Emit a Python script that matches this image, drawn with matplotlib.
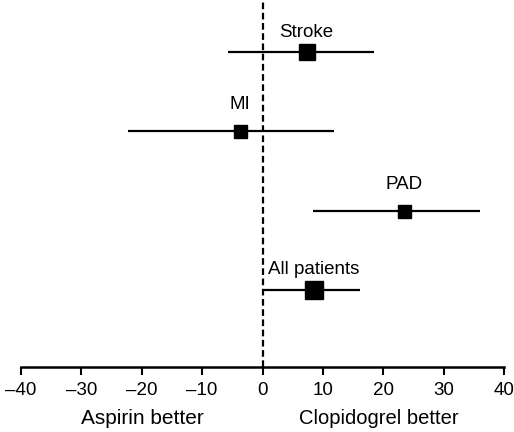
import matplotlib
matplotlib.use("Agg")
import matplotlib.pyplot as plt

plt.rcParams["font.family"] = ["Liberation Sans", "DejaVu Sans"]

# relative risk reduction (%) with 95% CI
groups = ["Stroke", "MI", "PAD", "All patients"]
estimate = [7.3, -3.7, 23.5, 8.5]
ci_low = [-5.8, -22.3, 8.3, 0.2]
ci_high = [18.5, 11.8, 36.1, 16.2]
marker_px = [16, 13, 13, 18]      # square sizes in pixels (weights)
label_offset = [20, 27, 26, 21]   # label height above marker, px
rows = [4, 3, 2, 1]

xticks = list(range(-40, 41, 10))

fig = plt.figure(figsize=(5.14, 4.32), dpi=100)
ax = fig.add_axes([0.041, 0.150, 0.9395, 0.850])

for g, e, lo, hi, ms, off, r in zip(groups, estimate, ci_low, ci_high,
                                    marker_px, label_offset, rows):
    ax.plot([lo, hi], [r, r], color="black", lw=1.6, solid_capstyle="butt", zorder=2)
    ax.plot(e, r, marker="s", color="black", markersize=ms * 0.72, zorder=3)
    ax.annotate(g, (e, r), xytext=(0, off * 0.72), textcoords="offset points",
                ha="center", va="center", fontsize=13.5)

ax.axvline(0, color="black", lw=1.6, ls=(0, (3, 1.6)), zorder=1)

ax.set_xlim(-40, 40)
ax.set_ylim(0.03, 4.656)
ax.set_xticks(xticks)
ax.set_xticklabels([f"{t}".replace("-", "\u2013") for t in xticks], fontsize=13.5)
ax.tick_params(axis="x", direction="out", length=6, width=1.5, pad=4.5)
ax.set_yticks([])
for s in ["top", "left", "right"]:
    ax.spines[s].set_visible(False)
ax.spines["bottom"].set_linewidth(1.8)

fig.text(142 / 514, 1 - 418 / 432, "Aspirin better", ha="center", va="center", fontsize=15)
fig.text(379 / 514, 1 - 418 / 432, "Clopidogrel better", ha="center", va="center", fontsize=14.5)

fig.savefig("out.png", dpi=100)
